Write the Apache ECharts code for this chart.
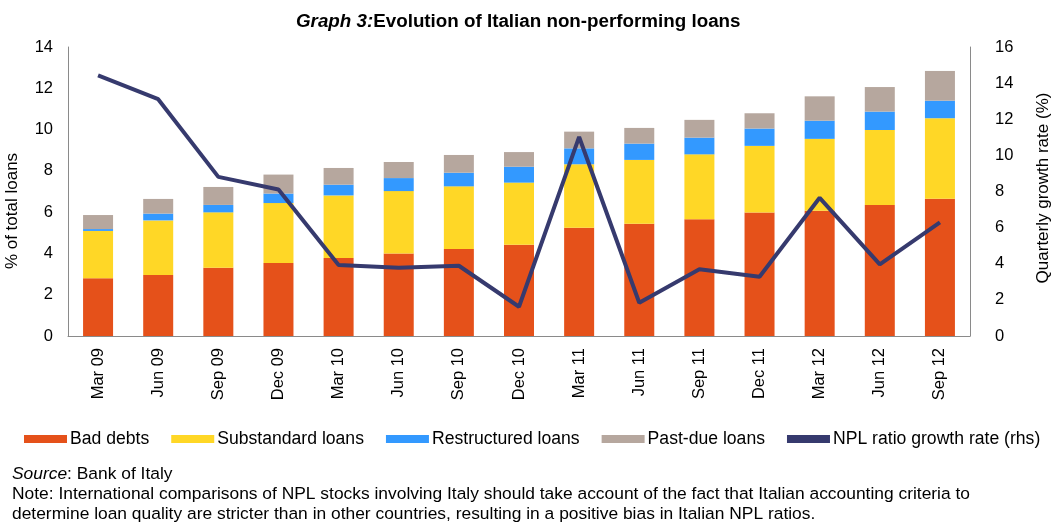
<!DOCTYPE html>
<html>
<head>
<meta charset="utf-8">
<script src="https://cdn.jsdelivr.net/npm/echarts@6/dist/echarts.min.js"></script>
<style>
  html, body { margin: 0; padding: 0; background: #fff; }
  #chart { width: 1055px; height: 529px; }
</style>
</head>
<body>
<div id="chart"></div>
<script>
// Quarterly observations
const quarters = ['Mar 09','Jun 09','Sep 09','Dec 09','Mar 10','Jun 10','Sep 10','Dec 10',
                  'Mar 11','Jun 11','Sep 11','Dec 11','Mar 12','Jun 12','Sep 12'];

// Components of non-performing loans, % of total loans (stacked)
const badDebts      = [2.80, 2.95, 3.31, 3.54, 3.78, 4.00, 4.22, 4.42, 5.25, 5.44, 5.65, 5.98, 6.07, 6.35, 6.65];
const substandard   = [2.29, 2.65, 2.68, 2.90, 3.03, 3.02, 3.03, 3.01, 3.07, 3.09, 3.15, 3.23, 3.48, 3.63, 3.90];
const restructured  = [0.09, 0.33, 0.36, 0.46, 0.52, 0.63, 0.66, 0.77, 0.77, 0.79, 0.81, 0.84, 0.88, 0.89, 0.85];
const pastDue       = [0.68, 0.71, 0.87, 0.92, 0.81, 0.78, 0.86, 0.71, 0.81, 0.76, 0.86, 0.74, 1.18, 1.19, 1.44];

// NPL ratio quarterly growth rate, % (right-hand scale)
const nplGrowth     = [14.43, 13.11, 8.81, 8.11, 3.93, 3.78, 3.89, 1.62, 11.02, 1.84, 3.69, 3.28, 7.65, 3.97, 6.29];

const leftTicks  = { min: 0, max: 14, interval: 2 };
const rightTicks = { min: 0, max: 16, interval: 2 };

const FONT = 'Liberation Sans, Arial, sans-serif';
const axisColor = '#8a8a8a';
const textColor = '#000';

const chart = echarts.init(document.getElementById('chart'), null, { renderer: 'canvas' });

const barSeries = (name, data, color) => ({
  name, type: 'bar', stack: 'npl', data,
  barWidth: 30,
  itemStyle: { color },
  emphasis: { disabled: true }
});

chart.setOption({
  animation: false,
  backgroundColor: '#fff',
  textStyle: { fontFamily: FONT },
  title: {
    left: 291,
    top: 7,
    text: '{it|Graph 3:}{b|Evolution of Italian non-performing loans}',
    textStyle: {
      rich: {
        it: { fontStyle: 'italic', fontSize: 18.8, fontFamily: FONT, color: textColor },
        b:  { fontWeight: 'bold', fontSize: 18.8, fontFamily: FONT, color: textColor }
      }
    }
  },
  grid: { left: 68, right: 85, top: 47, bottom: 193, containLabel: false },
  legend: {
    left: 24,
    top: 430,
    padding: 0,
    itemWidth: 43,
    itemHeight: 8,
    itemGap: 22,
    textStyle: { fontSize: 17.6, color: textColor, fontFamily: FONT, padding: [0, 0, 0, -2] },
    data: [
      { name: 'Bad debts', icon: 'rect' },
      { name: 'Substandard loans', icon: 'rect' },
      { name: 'Restructured loans', icon: 'rect' },
      { name: 'Past-due loans', icon: 'rect' },
      { name: 'NPL ratio growth rate (rhs)', icon: 'rect', itemStyle: { color: '#363a6e' } }
    ]
  },
  xAxis: {
    type: 'category',
    data: quarters,
    axisLine: { lineStyle: { color: axisColor, width: 1 } },
    axisTick: { show: false },
    axisLabel: { rotate: 90, fontSize: 16.5, color: textColor, margin: 12, interval: 0 }
  },
  yAxis: [
    {
      type: 'value', ...leftTicks,
      splitLine: { show: false },
      axisLine: { show: true, lineStyle: { color: axisColor, width: 1 } },
      axisTick: { show: false },
      axisLabel: { fontSize: 16.5, color: textColor, margin: 15 }
    },
    {
      type: 'value', ...rightTicks,
      position: 'right',
      splitLine: { show: false },
      axisLine: { show: true, lineStyle: { color: axisColor, width: 1 } },
      axisTick: { show: false },
      axisLabel: { fontSize: 16.5, color: textColor, margin: 25 }
    }
  ],
  series: [
    barSeries('Bad debts', badDebts, '#e5511a'),
    barSeries('Substandard loans', substandard, '#ffd726'),
    barSeries('Restructured loans', restructured, '#3399ff'),
    barSeries('Past-due loans', pastDue, '#b6a79e'),
    {
      name: 'NPL ratio growth rate (rhs)',
      type: 'line',
      yAxisIndex: 1,
      data: nplGrowth,
      symbol: 'none',
      lineStyle: { color: '#363a6e', width: 4 },
      itemStyle: { color: '#363a6e' },
      emphasis: { disabled: true },
      z: 5
    }
  ],
  graphic: [
    {
      type: 'text', x: 12, y: 211, rotation: Math.PI / 2,
      style: { text: '% of total loans', fontSize: 17, fontFamily: FONT, fill: textColor,
               align: 'center', verticalAlign: 'middle' }
    },
    {
      type: 'text', x: 1043, y: 188, rotation: Math.PI / 2,
      style: { text: 'Quarterly growth rate (%)', fontSize: 17, fontFamily: FONT, fill: textColor,
               align: 'center', verticalAlign: 'middle' }
    },
    {
      type: 'text', x: 12, y: 474,
      style: { text: '{i|Source}: Bank of Italy', fontSize: 17.4, fontFamily: FONT, fill: textColor,
               verticalAlign: 'middle',
               rich: { i: { fontStyle: 'italic', fontSize: 17.4, fontFamily: FONT, fill: textColor } } }
    },
    {
      type: 'text', x: 12, y: 494,
      style: { text: 'Note: International comparisons of NPL stocks involving Italy should take account of the fact that Italian accounting criteria to',
               fontSize: 17.4, fontFamily: FONT, fill: textColor, verticalAlign: 'middle' }
    },
    {
      type: 'text', x: 12, y: 514,
      style: { text: 'determine loan quality are stricter than in other countries, resulting in a positive bias in Italian NPL ratios.',
               fontSize: 17.4, fontFamily: FONT, fill: textColor, verticalAlign: 'middle' }
    }
  ]
});
</script>
</body>
</html>
